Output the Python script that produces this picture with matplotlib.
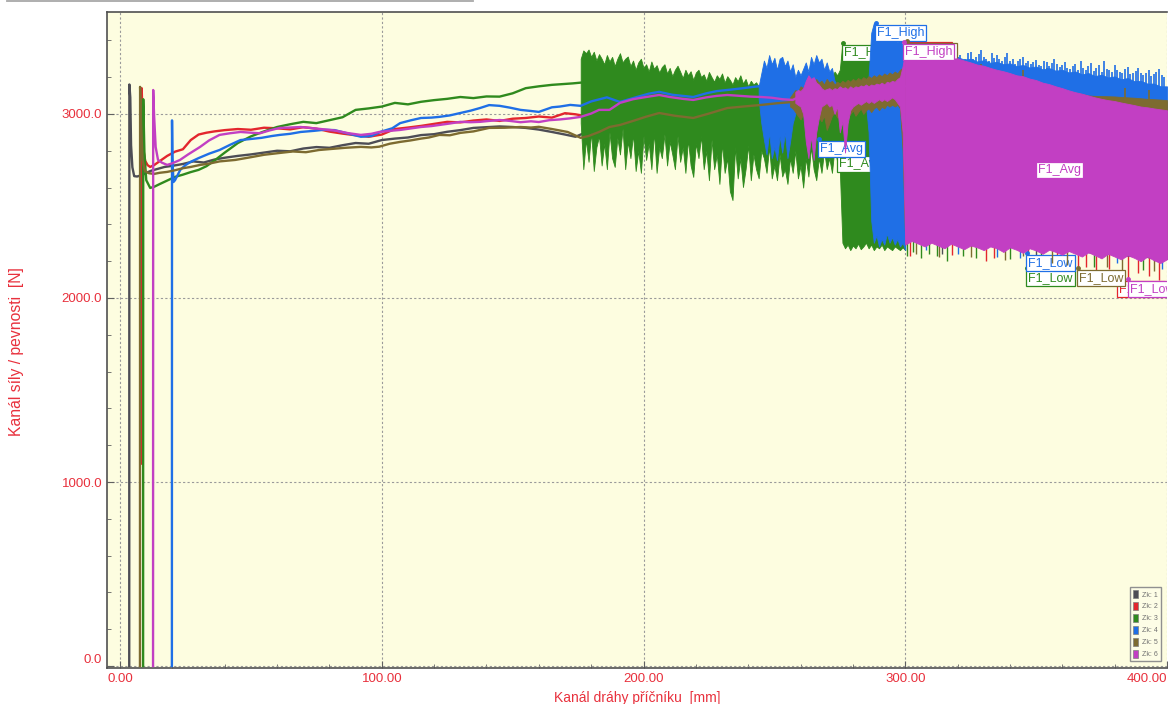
import numpy as np
import matplotlib
matplotlib.use("Agg")
import matplotlib.pyplot as plt
from matplotlib.patches import Patch
from matplotlib.lines import Line2D

plt.rcParams['font.family'] = ['Liberation Sans', 'DejaVu Sans']

# ---------------- data ----------------
series_names = ["Zk: 1", "Zk: 2", "Zk: 3", "Zk: 4", "Zk: 5", "Zk: 6"]
series_colors = ["#4d4d55", "#e3262d", "#2f8a1e", "#1f6fe6", "#7d6b30", "#c23fc3"]

x_ticks = [0, 100, 200, 300, 400]
x_tick_labels = ["0.00", "100.00", "200.00", "300.00", "400.00"]
y_ticks = [0, 1000, 2000, 3000]
y_tick_labels = ["0.0", "1000.0", "2000.0", "3000.0"]

# smooth force traces [mm, N]
zk1_x = [3.5, 3.55, 3.9, 4.2, 4.7, 5.4, 6.5, 8.5, 10, 12, 14, 17, 20, 24, 28, 32, 36, 40, 45, 50,
         55, 60, 65, 70, 75, 80, 85, 90, 95, 100, 105, 110, 115, 120, 125, 130, 135, 140, 145,
         150, 155, 160, 165, 170, 174, 178, 200, 230, 260, 300]
zk1_y = [0, 3160, 3090, 2830, 2710, 2662, 2660, 2668, 2680, 2692, 2700, 2712, 2718, 2728, 2742, 2736,
         2752, 2762, 2772, 2780, 2790, 2800, 2797, 2812, 2820, 2816, 2830, 2842, 2838, 2858, 2866,
         2872, 2885, 2890, 2903, 2912, 2924, 2928, 2932, 2929, 2924, 2915, 2902, 2888, 2876, 2900,
         2950, 2990, 3020, 3060]

zk2_x = [8.2, 8.25, 8.6, 9.0, 9.6, 10.5, 11.5, 13, 15, 18, 21, 24, 27, 30, 33, 36, 40, 45, 50, 55,
         60, 65, 70, 75, 80, 85, 90, 95, 100, 105, 110, 115, 120, 125, 130, 135, 140, 145, 150,
         155, 160, 165, 170, 174, 177, 200, 230, 260, 300]
zk2_y = [1100, 3140, 2980, 2800, 2745, 2722, 2712, 2722, 2742, 2772, 2795, 2808, 2858, 2888, 2898,
         2905, 2912, 2918, 2914, 2925, 2922, 2916, 2928, 2920, 2904, 2893, 2884, 2876, 2888, 2918,
         2926, 2935, 2946, 2957, 2954, 2964, 2970, 2962, 2974, 2978, 2986, 2980, 3004, 2998, 2990,
         3030, 3060, 3080, 3100]

zk3_x = [8.8, 8.85, 9.3, 10.0, 11.5, 13, 15, 18, 21, 24, 27, 30, 33, 36, 40, 45, 50, 55, 60, 65,
         70, 75, 80, 85, 90, 95, 100, 105, 110, 115, 120, 125, 130, 135, 140, 145, 150, 155, 160,
         165, 170, 173, 176]
zk3_y = [0, 3080, 2790, 2640, 2598, 2604, 2618, 2638, 2658, 2670, 2684, 2696, 2716, 2746, 2790,
         2842, 2878, 2905, 2929, 2944, 2957, 2950, 2966, 2982, 3022, 3030, 3040, 3060, 3052, 3066,
         3075, 3082, 3092, 3086, 3095, 3094, 3112, 3140, 3150, 3158, 3163, 3166, 3170]

zk4_x = [19.8, 19.85, 20.0, 20.4, 21, 22, 23, 25, 27, 30, 34, 38, 42, 46, 50, 54, 58, 61, 65, 69,
         74, 78, 82, 87, 92, 96, 100, 104, 107, 111, 115, 119, 122, 126, 130, 134, 137.5, 141, 145,
         149, 153, 157, 160, 165, 168, 172, 176, 180, 186, 191, 197, 202, 206, 211, 215, 219, 224,
         228, 232, 237, 242, 244]
zk4_y = [0, 2965, 2760, 2630, 2640, 2668, 2696, 2722, 2740, 2760, 2784, 2804, 2832, 2858, 2864,
         2870, 2880, 2886, 2892, 2902, 2908, 2914, 2912, 2894, 2876, 2880, 2905, 2922, 2950, 2965,
         2978, 2980, 2984, 2992, 3005, 3018, 3032, 3048, 3044, 3034, 3022, 3016, 3011, 3036, 3040,
         3049, 3044, 3068, 3090, 3065, 3090, 3110, 3120, 3104, 3098, 3092, 3112, 3124, 3130, 3138,
         3147, 3150]

zk5_x = [7.6, 7.65, 8.0, 8.6, 9.5, 11, 13, 15, 18, 21, 24, 27, 30.6, 34, 38, 44, 50, 55, 61, 66,
         71, 76, 81, 86, 92, 96, 99, 103, 107, 111, 115, 118, 122, 126, 130, 135, 141, 147, 153,
         157, 160, 165, 171, 176, 179, 183, 187, 191, 196, 201, 206, 212, 219, 225, 232, 238, 245,
         251, 257, 265, 275, 285, 300]
zk5_y = [0, 3147, 2950, 2750, 2690, 2678, 2674, 2680, 2685, 2694, 2705, 2712, 2723, 2730, 2742,
         2750, 2765, 2778, 2788, 2796, 2792, 2804, 2810, 2816, 2821, 2818, 2822, 2838, 2848, 2856,
         2866, 2872, 2886, 2884, 2897, 2905, 2924, 2925, 2929, 2926, 2930, 2918, 2902, 2870, 2880,
         2902, 2929, 2940, 2962, 2985, 3005, 2990, 2978, 3002, 3032, 3040, 3049, 3058, 3065, 3080,
         3090, 3100, 3120]

zk6_x = [12.6, 12.65, 13.0, 13.6, 14.5, 16, 18, 20, 22.9, 26, 30.6, 34, 38, 42, 46, 50, 53.5, 57,
         61, 65, 69, 74, 78, 82, 87, 92, 96, 99, 103, 107, 111, 115, 119, 122, 126, 130, 134, 137.5,
         141, 145, 149, 153, 157, 160, 164, 168, 172, 176, 180, 183, 187, 191, 196, 201, 206, 210,
         215, 219, 224, 228, 232, 237, 241, 245, 249, 253, 257, 262, 268, 274, 280, 286, 292, 300]
zk6_y = [0, 3130, 2990, 2820, 2750, 2735, 2723, 2732, 2750, 2780, 2821, 2856, 2886, 2895, 2902,
         2898, 2895, 2910, 2924, 2926, 2929, 2922, 2916, 2910, 2896, 2886, 2892, 2902, 2908, 2913,
         2921, 2929, 2934, 2940, 2948, 2957, 2955, 2957, 2962, 2967, 2962, 2955, 2960, 2956, 2966,
         2970, 2976, 2984, 3002, 3022, 3022, 3060, 3080, 3092, 3103, 3092, 3082, 3076, 3090, 3098,
         3103, 3098, 3094, 3092, 3088, 3080, 3076, 3110, 3100, 3110, 3120, 3125, 3130, 3150]

# oscillation envelopes (upper / lower), sampled evenly over each travel span [mm, N]
zk3_band1_span = (176, 300)
zk3_band1_hi = [3300, 3345, 3330, 3350, 3310, 3338, 3290, 3325, 3300, 3270,
                3320, 3285, 3310, 3260, 3300, 3330, 3280, 3300, 3312, 3260,
                3290, 3240, 3280, 3300, 3250, 3270, 3230, 3285, 3245, 3265,
                3225, 3255, 3270, 3220, 3250, 3205, 3240, 3262, 3230, 3195,
                3240, 3210, 3232, 3185, 3225, 3240, 3200, 3215, 3180, 3228,
                3200, 3175, 3210, 3190, 3220, 3170, 3205, 3185, 3160, 3200,
                3178, 3210, 3165, 3190, 3150, 3180, 3160, 3172, 3150, 3160,
                3150, 3170, 3140, 3160, 3150, 3180, 3140, 3165, 3150, 3170,
                3160, 3180, 3150, 3190, 3170, 3200, 3160, 3190, 3170, 3200,
                3180, 3210, 3170, 3200, 3190, 3220, 3200, 3230, 3210, 3240,
                3386, 3330, 3320, 3335, 3310, 3325, 3315, 3330, 3300, 3320,
                3310, 3300, 3310, 3290, 3300, 3280, 3300, 3290, 3280, 3300,
                3290, 3280, 3290, 3300, 3290]
zk3_band1_lo = [2950, 2700, 2860, 2740, 2900, 2690, 2820, 2880, 2720, 2840,
                2700, 2900, 2760, 2712, 2870, 2780, 2920, 2700, 2850, 2760,
                2890, 2690, 2800, 2680, 2880, 2750, 2840, 2700, 2900, 2680,
                2820, 2760, 2890, 2720, 2850, 2780, 2700, 2880, 2740, 2820,
                2680, 2860, 2720, 2658, 2840, 2760, 2880, 2700, 2800, 2640,
                2860, 2700, 2780, 2620, 2840, 2680, 2760, 2580, 2532, 2820,
                2650, 2760, 2603, 2700, 2830, 2640, 2780, 2700, 2650, 2800,
                2760, 2680, 2820, 2650, 2720, 2640, 2780, 2660, 2700, 2620,
                2760, 2680, 2800, 2650, 2720, 2600, 2760, 2660, 2820, 2700,
                2640, 2760, 2680, 2800, 2700, 2760, 2680, 2820, 2740, 2700,
                2300, 2270, 2290, 2260, 2285, 2270, 2295, 2265, 2280, 2300,
                2270, 2290, 2260, 2280, 2270, 2290, 2260, 2280, 2270, 2260,
                2280, 2270, 2260, 2275, 2260]

zk4_band1_span = (244, 300)
zk4_band1_hi = [3150, 3220, 3290, 3250, 3320, 3270, 3305, 3240, 3300, 3310,
                3260, 3290, 3230, 3270, 3200, 3240, 3210, 3245, 3280, 3230,
                3310, 3270, 3320, 3280, 3300, 3240, 3280, 3230, 3250, 3180,
                3160, 3150, 3150, 3140, 3150, 3145, 3150, 3140, 3150, 3145,
                3150, 3160, 3200, 3440, 3494, 3430, 3460, 3420, 3450, 3410,
                3440, 3400, 3430, 3390, 3410, 3370, 3340]
zk4_band1_lo = [3080, 2950, 2860, 2780, 2900, 2760, 2820, 2750, 2880, 2790,
                2900, 2760, 2850, 2950, 3000, 3060, 3040, 3050, 2980, 2900,
                2960, 2990, 2950, 3000, 2970, 3005, 2990, 3040, 3060, 3090,
                3100, 3100, 3110, 3100, 3110, 3100, 3110, 3100, 3110, 3100,
                3100, 3050, 2900, 2420, 2300, 2340, 2280, 2320, 2290, 2350,
                2300, 2330, 2290, 2320, 2280, 2300, 2260]

zk5_band1_span = (256, 300)
zk5_band1_hi = [3090, 3110, 3130, 3120, 3150, 3140, 3170, 3150, 3180, 3160,
                3190, 3170, 3180, 3160, 3190, 3170, 3180, 3160, 3175, 3165,
                3180, 3170, 3185, 3175, 3190, 3180, 3195, 3185, 3200, 3190,
                3205, 3195, 3210, 3200, 3215, 3205, 3220, 3210, 3225, 3215,
                3230, 3220, 3240, 3250, 3260]
zk5_band1_lo = [3040, 3030, 3010, 2990, 2970, 3000, 2950, 2980, 2960, 2990,
                2940, 2980, 2960, 2990, 2913, 2950, 2990, 3010, 2980, 3000,
                2990, 3010, 2980, 3000, 3020, 2990, 3010, 3030, 3000, 3020,
                3030, 3010, 3030, 3040, 3020, 3040, 3030, 3050, 3040, 3050,
                3040, 3050, 3030, 2800, 2290]

zk6_band1_span = (258, 300)
zk6_band1_hi = [3120, 3130, 3125, 3140, 3180, 3210, 3190, 3200, 3170, 3160,
                3140, 3130, 3135, 3140, 3130, 3140, 3135, 3150, 3140, 3145,
                3135, 3150, 3140, 3150, 3145, 3155, 3150, 3160, 3150, 3160,
                3155, 3165, 3160, 3170, 3160, 3175, 3170, 3180, 3175, 3190,
                3200, 3260, 3340]
zk6_band1_lo = [3060, 3050, 3040, 3000, 2850, 2760, 2880, 2750, 2900, 2980,
                3040, 3050, 3060, 3040, 3050, 3000, 3040, 2900, 2960, 2790,
                2950, 3020, 3040, 3050, 3060, 3050, 3060, 3070, 3060, 3070,
                3060, 3070, 3080, 3070, 3080, 3070, 3080, 3090, 3080, 3060,
                3040, 2900, 2300]

band2_span = (300, 400)
band2_inner_lo = [2330, 2328, 2325, 2322, 2320, 2318, 2315, 2312, 2310, 2306,
                  2303, 2300, 2297, 2294, 2291, 2288, 2285, 2282, 2279, 2276,
                  2273, 2270, 2267, 2264, 2261, 2258, 2255, 2252, 2249, 2246,
                  2243, 2240, 2237, 2234, 2231, 2228, 2225, 2222, 2219, 2216, 2213]
zk1_band2_hi = [3250, 3240, 3232, 3225, 3215, 3208, 3200, 3190, 3182, 3175,
                3165, 3158, 3150, 3142, 3135, 3128, 3120, 3112, 3105, 3098,
                3090, 3084, 3078, 3072, 3066, 3060, 3055, 3050, 3045, 3040,
                3035, 3030, 3026, 3022, 3018, 3014, 3010, 3006, 3002, 2998, 2995]
zk2_band2_hi = [3320, 3312, 3305, 3298, 3290, 3282, 3275, 3266, 3258, 3250,
                3240, 3232, 3224, 3215, 3206, 3198, 3190, 3181, 3172, 3164,
                3156, 3148, 3140, 3132, 3124, 3116, 3108, 3100, 3093, 3086,
                3079, 3072, 3066, 3060, 3054, 3048, 3043, 3038, 3033, 3028, 3024]
zk3_band2_hi = [3300, 3290, 3282, 3275, 3268, 3260, 3252, 3245, 3238, 3230,
                3222, 3215, 3208, 3200, 3193, 3186, 3180, 3173, 3166, 3160,
                3154, 3148, 3142, 3136, 3130, 3125, 3120, 3115, 3110, 3105,
                3100, 3096, 3092, 3088, 3084, 3080, 3077, 3074, 3071, 3068, 3065]
zk4_band2_hi = [3330, 3322, 3325, 3318, 3320, 3312, 3315, 3305, 3308, 3296,
                3300, 3285, 3292, 3278, 3283, 3270, 3275, 3260, 3266, 3252,
                3258, 3242, 3249, 3235, 3240, 3225, 3231, 3215, 3222, 3206,
                3213, 3198, 3204, 3188, 3195, 3178, 3180, 3165, 3165, 3150, 3150]
zk5_band2_hi = [3300, 3295, 3290, 3285, 3280, 3275, 3270, 3265, 3260, 3252,
                3245, 3238, 3230, 3222, 3215, 3208, 3200, 3190, 3182, 3174,
                3165, 3156, 3148, 3140, 3130, 3122, 3115, 3108, 3100, 3098,
                3097, 3096, 3095, 3092, 3090, 3088, 3085, 3082, 3080, 3078, 3075]
zk6_band2_hi = [3345, 3335, 3330, 3325, 3322, 3318, 3312, 3300, 3302, 3290,
                3280, 3268, 3262, 3250, 3240, 3232, 3222, 3210, 3205, 3192,
                3184, 3170, 3162, 3150, 3140, 3128, 3118, 3110, 3100, 3090,
                3082, 3075, 3070, 3062, 3055, 3048, 3040, 3036, 3030, 3025, 3020]
zk6_band2_lo = [2290, 2310, 2295, 2280, 2300, 2285, 2270, 2295, 2280, 2265,
                2285, 2275, 2260, 2280, 2270, 2250, 2275, 2262, 2245, 2270,
                2258, 2240, 2262, 2250, 2235, 2255, 2240, 2225, 2248, 2232,
                2215, 2240, 2225, 2210, 2232, 2218, 2200, 2225, 2205, 2190, 2210]

# peaks above the upper envelope, one per mm from 318 mm [N]
zk4_peak_start = 318
zk4_peak_y = [3300, 3290, 3310, 3320, 3295, 3300, 3330, 3335, 3300, 3310,
              3325, 3345, 3310, 3300, 3290, 3330, 3305, 3320, 3300, 3290,
              3310, 3330, 3285, 3300, 3270, 3285, 3300, 3310, 3275, 3290,
              3270, 3280, 3295, 3265, 3260, 3285, 3280, 3260, 3275, 3300,
              3270, 3255, 3265, 3280, 3250, 3245, 3260, 3270, 3240, 3290,
              3250, 3240, 3260, 3275, 3235, 3250, 3265, 3230, 3285, 3245,
              3240, 3230, 3265, 3240, 3230, 3225, 3245, 3255, 3215, 3220,
              3235, 3250, 3225, 3210, 3220, 3240, 3205, 3215, 3230, 3245,
              3210, 3200]
# a few isolated peaks of other series [mm], [N]
zk3_peak_x = [327, 354, 356, 371]
zk3_peak_y = [3280, 3250, 3230, 3200]
zk5_peak_x = [323, 329, 345, 384, 393]
zk5_peak_y = [3290, 3270, 3240, 3140, 3130]

# isolated dips below the lower envelope [mm], [N]
zk1_dip_x = [314, 350]
zk1_dip_y = [2240, 2205]
zk2_dip_x = [302, 318, 331, 334, 347, 358, 366, 369, 373, 378, 385, 389, 393, 397]
zk2_dip_y = [2230, 2235, 2200, 2215, 2190, 2185, 2150, 2170, 2140, 2160, 2110, 2135, 2120, 2100]
zk3_dip_x = [300.5, 303, 306, 309, 312, 316, 322, 327, 340, 352, 372, 391]
zk3_dip_y = [2230, 2250, 2215, 2240, 2230, 2200, 2230, 2215, 2210, 2200, 2170, 2150]
zk4_dip_x = [308, 320, 335, 344, 360, 381, 398]
zk4_dip_y = [2260, 2240, 2225, 2215, 2210, 2190, 2160]
zk5_dip_x = [304, 313, 325, 338, 345, 356, 362, 377, 383, 395]
zk5_dip_y = [2240, 2225, 2220, 2205, 2230, 2190, 2180, 2170, 2150, 2145]

# High / Avg / Low markers: (series index, text, mm, N)
marker_labels = [
    (1, "F1_High", 298.6, 3402), (4, "F1_High", 300.6, 3396), (5, "F1_High", 299.4, 3390),
    (2, "F1_High", 276.2, 3386), (3, "F1_High", 288.7, 3494),
    (3, "F1_Avg", 267.2, 2862), (2, "F1_Avg", 274.4, 2778), (5, "F1_Avg", 350.2, 2748),
    (3, "F1_Low", 346.6, 2244), (2, "F1_Low", 346.6, 2162), (4, "F1_Low", 366.0, 2162),
    (1, "F1_Low", 381.2, 2103), (5, "F1_Low", 385.3, 2103),
]

traces = [(zk1_x, zk1_y), (zk2_x, zk2_y), (zk3_x, zk3_y), (zk4_x, zk4_y), (zk5_x, zk5_y), (zk6_x, zk6_y)]
bands = [
    [(band2_span, zk1_band2_hi, band2_inner_lo)],
    [(band2_span, zk2_band2_hi, band2_inner_lo)],
    [(zk3_band1_span, zk3_band1_hi, zk3_band1_lo), (band2_span, zk3_band2_hi, band2_inner_lo)],
    [(zk4_band1_span, zk4_band1_hi, zk4_band1_lo), (band2_span, zk4_band2_hi, band2_inner_lo)],
    [(zk5_band1_span, zk5_band1_hi, zk5_band1_lo), (band2_span, zk5_band2_hi, band2_inner_lo)],
    [(zk6_band1_span, zk6_band1_hi, zk6_band1_lo), (band2_span, zk6_band2_hi, zk6_band2_lo)],
]
zk4_peak_x = zk4_peak_start + np.arange(len(zk4_peak_y))
peaks = [None, None, (zk3_peak_x, zk3_peak_y), (zk4_peak_x, zk4_peak_y), (zk5_peak_x, zk5_peak_y), None]
dips = [(zk1_dip_x, zk1_dip_y), (zk2_dip_x, zk2_dip_y), (zk3_dip_x, zk3_dip_y),
        (zk4_dip_x, zk4_dip_y), (zk5_dip_x, zk5_dip_y), None]

# ---------------- figure ----------------
red_text = "#e8303c"
fig = plt.figure(figsize=(11.68, 7.04), dpi=100, facecolor="white")
ax = fig.add_axes([0.0916, 0.051, 0.9075, 0.932])
ax.set_facecolor("#fdfde0")

for i, ((tx, ty), segs, col) in enumerate(zip(traces, bands, series_colors)):
    z = 2 + i
    for (x0, x1), hi, lo in segs:
        bx = np.linspace(x0, x1, len(hi))
        ax.fill_between(bx, lo, hi, color=col, lw=0.6, zorder=z)
    if peaks[i] is not None:
        px, py = peaks[i]
        ax.vlines(px, 3000, py, color=col, lw=1.2, zorder=z)
    if dips[i] is not None:
        dx, dy = dips[i]
        ax.vlines(dx, dy, 2400, color=col, lw=1.0, zorder=z)
    ax.plot(tx, ty, color=col, lw=1.7, zorder=z + 0.2, solid_joinstyle="round")

for si, txt, mx, my in marker_labels:
    col = series_colors[si]
    z = 2 + si + 0.5
    ax.plot([mx], [my], marker="o", ms=2.5, color=col, zorder=z, clip_on=True)
    ax.text(mx + 0.4, my - 20, txt, color=col, fontsize=9, ha="left", va="top", zorder=z,
            clip_on=True,
            bbox=dict(boxstyle="square,pad=0.16", fc="white", ec=col, lw=0.9))

ax.set_xlim(-5, 400)
ax.set_ylim(-11, 3554)
ax.set_xticks(x_ticks)
ax.set_xticklabels(x_tick_labels)
ax.set_yticks(y_ticks)
ax.set_yticklabels(y_tick_labels)
ax.set_xticks(np.arange(0, 401, 20), minor=True)
ax.set_yticks(np.arange(0, 3501, 200), minor=True)
ax.tick_params(axis="both", which="both", direction="in", colors="#606060", labelcolor=red_text,
               labelsize=9.5)
ax.tick_params(which="major", length=5)
ax.tick_params(which="minor", length=3)
ax.get_xticklabels()[-1].set_ha("right")
ax.get_yticklabels()[0].set_va("bottom")
ax.grid(True, which="major", color="#9a9a9a", linestyle=(0, (2, 2)), lw=0.8)
ax.set_axisbelow(True)
for s in ["left", "top", "bottom"]:
    ax.spines[s].set_color("#505050")
    ax.spines[s].set_linewidth(1.2)
ax.spines["right"].set_visible(False)

ax.set_xlabel("Kanál dráhy příčníku  [mm]", color=red_text, fontsize=10, labelpad=4)
ax.set_ylabel("Kanál síly / pevnosti  [N]", color=red_text, fontsize=11.3)
ax.yaxis.set_label_coords(-0.078, 0.483)

handles = [Patch(facecolor=c, edgecolor="#808080", lw=0.5) for c in series_colors]
leg = ax.legend(handles, series_names, loc="lower right", fontsize=5, handlelength=0.7,
                handleheight=1.3, handletextpad=0.5, labelspacing=0.55, borderpad=0.45,
                frameon=True, fancybox=False, framealpha=1, facecolor="#fdfde6",
                edgecolor="#909090", bbox_to_anchor=(0.9975, 0.005))
leg.set_zorder(20)
for t in leg.get_texts():
    t.set_color("#707070")

fig.add_artist(Line2D([0.006, 0.405], [0.9990, 0.9990], color="#a8a8a8", lw=1.3))

fig.savefig("out.png", dpi=100, facecolor="white")
